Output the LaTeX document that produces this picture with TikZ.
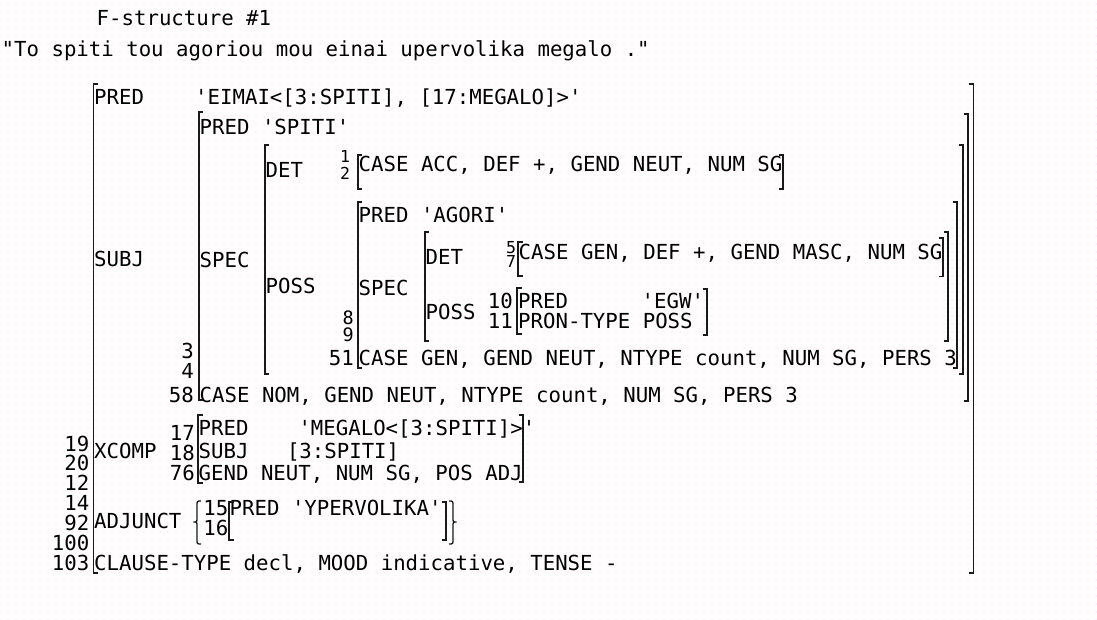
\documentclass[tikz,border=0pt]{standalone}
\usepackage{fontspec}
\setmonofont{DejaVu Sans Mono}
\usetikzlibrary{patterns.meta}

\begin{document}
\begin{tikzpicture}[
    x=1pt, y=-1pt,
    txt/.style={anchor=base west, inner sep=0pt, font=\ttfamily\fontsize{20.7}{24}\selectfont},
    num/.style={anchor=base east, inner sep=0pt, text depth=0pt, font=\ttfamily\fontsize{20.7}{24}\selectfont},
    midnum/.style={anchor=base east, inner sep=0pt, text depth=0pt, font=\ttfamily\fontsize{18.5}{22}\selectfont},
    smallnum/.style={anchor=base west, inner sep=0pt, text depth=0pt, font=\ttfamily\fontsize{16.5}{19}\selectfont},
    brk/.style={draw=black!90, line width=1.8pt},
    brace/.style={draw=black!90, line width=1.3pt}
]
\useasboundingbox (0,0) rectangle (1097,620);
\fill[white!97!pink] (0,0) rectangle (1097,620);
\fill[pattern={Dots[distance=8pt, radius=0.7pt]}, pattern color=magenta!22] (0,0) rectangle (1097,620);

% Heading
\node[txt] (title) at (96.5,25.5) {F-structure \#1};
\node[txt] (sentence) at (1.5,57) {"To spiti tou agoriou mou einai upervolika megalo ."};

% Top level
\node[txt] (pred) at (94,105) {PRED};
\node[txt] (predval) at (195,105) {'EIMAI<[3:SPITI], [17:MEGALO]>'};
\node[txt] (subj) at (94,266.5) {SUBJ};
\node[txt] (xcomp) at (94,458.5) {XCOMP};
\node[txt] (adjunct) at (94,528) {ADJUNCT};
\node[txt] (clause) at (94,570.5) {CLAUSE-TYPE decl, MOOD indicative, TENSE -};
\node[num] (n19) at (89.5,451.5) {19};
\node[num] (n20) at (89.5,470) {20};
\node[num] (n12) at (89.5,490) {12};
\node[num] (n14) at (89.5,510.5) {14};
\node[num] (n92) at (89.5,530) {92};
\node[num] (n100) at (89.5,550) {100};
\node[num] (n103) at (89.5,570) {103};

% SUBJ: SPITI
\node[txt] (spitipred) at (199.5,134.5) {PRED 'SPITI'};
\node[txt] (spec) at (199.5,268) {SPEC};
\node[txt] (spitiatt) at (199.5,402.8) {CASE NOM, GEND NEUT, NTYPE count, NUM SG, PERS 3};
\node[num] (n3) at (194,358.3) {3};
\node[num] (n4) at (194,378) {4};
\node[num] (n58) at (194,402.8) {58};

% SPEC: DET and POSS
\node[txt] (det) at (265.5,177.5) {DET};
\node[txt] (poss) at (265.5,293.5) {POSS};
\node[smallnum] (n1) at (340,162.5) {1};
\node[smallnum] (n2) at (340,180) {2};
\node[txt] (detatt) at (358.5,171.5) {CASE ACC, DEF +, GEND NEUT, NUM SG};

% POSS: AGORI
\node[txt] (agoripred) at (358.5,222.5) {PRED 'AGORI'};
\node[txt] (specb) at (358.5,295.5) {SPEC};
\node[midnum] (n8) at (354,324.5) {8};
\node[midnum] (n9) at (354,341.5) {9};
\node[num] (n51) at (354,365) {51};
\node[txt] (agoriatt) at (358.5,365) {CASE GEN, GEND NEUT, NTYPE count, NUM SG, PERS 3};

% inner SPEC
\node[txt] (detb) at (425.5,265) {DET};
\node[txt] (possb) at (425.5,319) {POSS};
\node[smallnum] (n5) at (506,253.5) {5};
\node[smallnum] (n7) at (506,267.5) {7};
\node[txt] (detbatt) at (518.5,259) {CASE GEN, DEF +, GEND MASC, NUM SG};
\node[num] (n10) at (513,308.5) {10};
\node[num] (n11) at (513,328) {11};
\node[txt] (egwpred) at (518,308.5) {PRED};
\node[txt] (egwval) at (641.5,308.5) {'EGW'};
\node[txt] (egwtype) at (518,328) {PRON-TYPE POSS};

% XCOMP: MEGALO
\node[num] (n17) at (195,440) {17};
\node[num] (n18) at (195,460) {18};
\node[num] (n76) at (195,480) {76};
\node[txt] (megpred) at (198.5,435.5) {PRED};
\node[txt] (megval) at (298.3,435.5) {'MEGALO<[3:SPITI]>'};
\node[txt] (megsubj) at (198.5,458.5) {SUBJ};
\node[txt] (megsubjval) at (286.8,458.5) {[3:SPITI]};
\node[txt] (megatt) at (198.5,480.5) {GEND NEUT, NUM SG, POS ADJ};

% ADJUNCT: YPERVOLIKA
\node[num] (n15) at (228.5,515.5) {15};
\node[num] (n16) at (228.5,535.5) {16};
\node[txt] (ypred) at (229.5,515.5) {PRED 'YPERVOLIKA'};

% Brackets
\draw[brk] (98,84) -| (93.5,573) -- (98,573);
\draw[brk] (969,84) -| (973.5,573) -- (969,573);
\draw[brk] (203,112) -| (198.7,400) -- (203,400);
\draw[brk] (964,114) -| (968.3,401) -- (964,401);
\draw[brk] (269,145) -| (265,374) -- (269,374);
\draw[brk] (958.5,145) -| (962.7,374) -- (958.5,374);
\draw[brk] (362,155) -| (358,189) -- (362,189);
\draw[brk] (779,155) -| (783.3,189) -- (779,189);
\draw[brk] (362,201.7) -| (357.7,368) -- (362,368);
\draw[brk] (952.5,201.7) -| (956.8,368) -- (952.5,368);
\draw[brk] (429,231.7) -| (425,340.7) -- (429,340.7);
\draw[brk] (944,231.7) -| (948.3,340.7) -- (944,340.7);
\draw[brk] (522.5,241.7) -| (518.3,276) -- (522.5,276);
\draw[brk] (939,238) -| (943.3,276.5) -- (939,276.5);
\draw[brk] (521.5,288.3) -| (517.3,334) -- (521.5,334);
\draw[brk] (702.5,289) -| (706.7,335) -- (702.5,335);
\draw[brk] (202.5,415) -| (198.3,483) -- (202.5,483);
\draw[brk] (519,415) -| (523.3,482) -- (519,482);
\draw[brk] (233.5,501.7) -| (229.3,540) -- (233.5,540);
\draw[brk] (442,501.7) -| (446.3,540) -- (442,540);

% Set braces
\draw[brace] (201,501) .. controls (197,501) .. (197,506) -- (197,517.5)
    .. controls (197,522) .. (193.5,522) .. controls (197,522) .. (197,526.5)
    -- (197,539) .. controls (197,544) .. (201,544);
\draw[brace] (449,501) .. controls (453,501) .. (453,506) -- (453,517.5)
    .. controls (453,522) .. (456.5,522) .. controls (453,522) .. (453,526.5)
    -- (453,539) .. controls (453,544) .. (449,544);
\end{tikzpicture}
\end{document}
